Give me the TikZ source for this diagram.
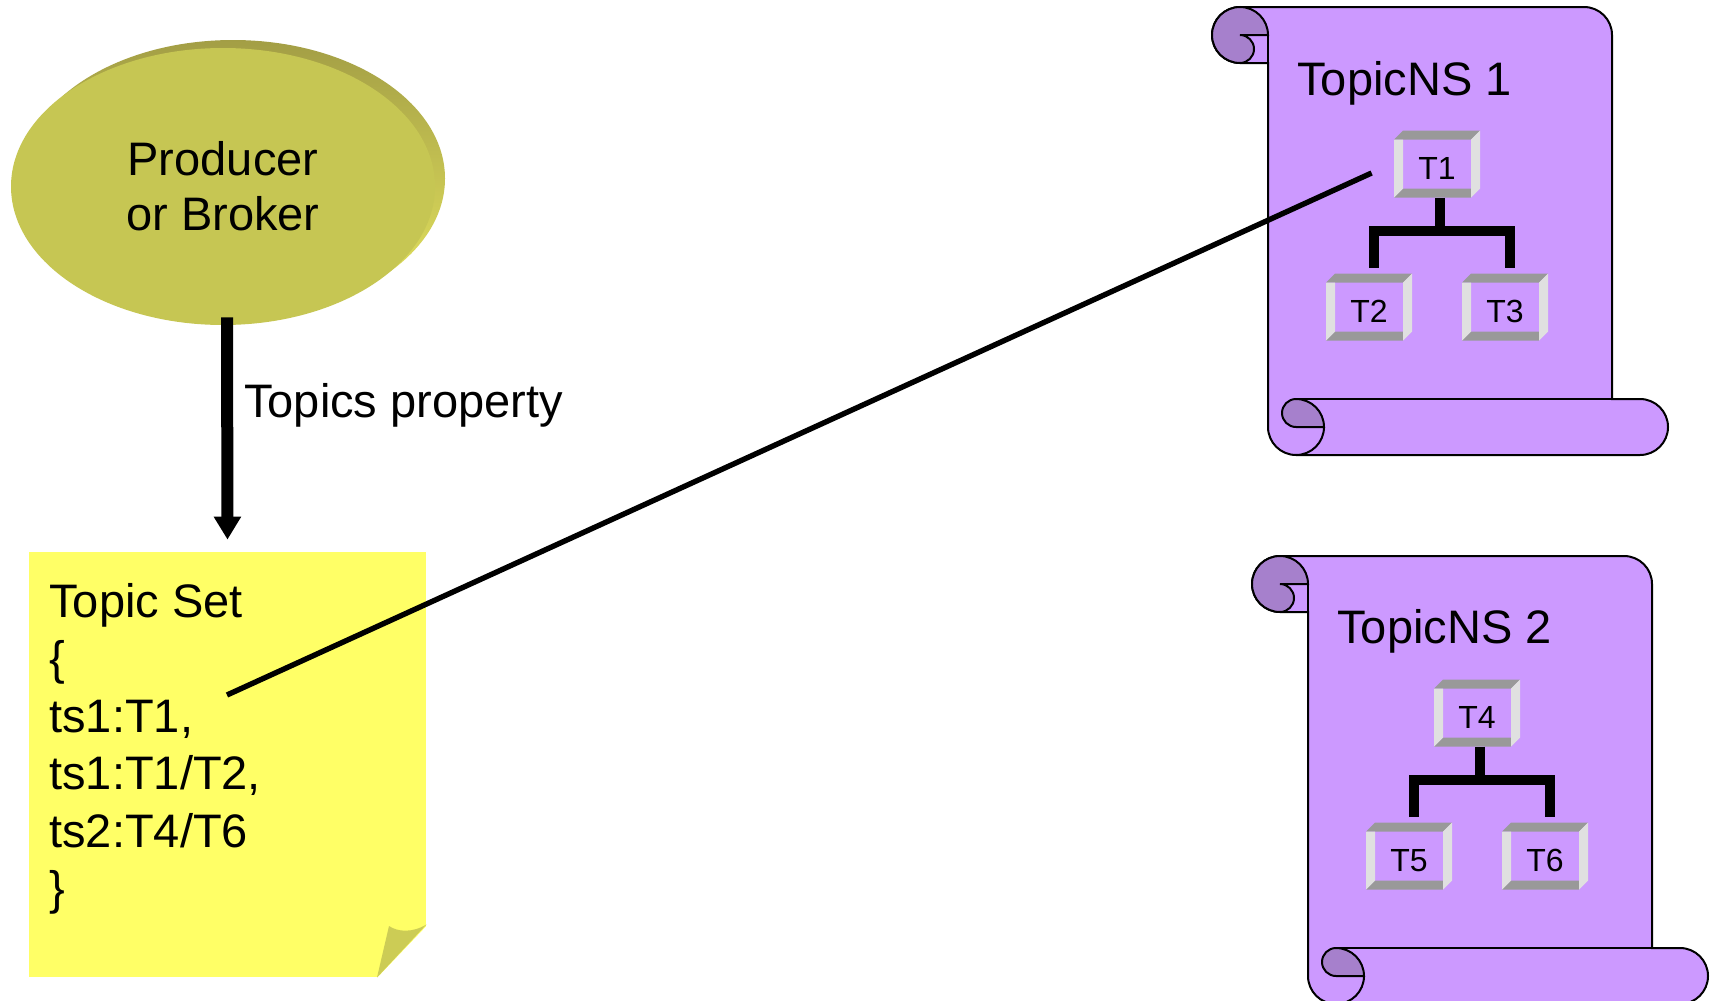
\documentclass[tikz,border=0pt]{standalone}
\usepackage{fontspec}
\setmainfont{Liberation Sans}
\usepackage{tikz}
\usetikzlibrary{arrows.meta, shapes.geometric}
\definecolor{prodfill}{HTML}{C6C653}
\definecolor{rimdark}{HTML}{A39E45}
\definecolor{rimmid}{HTML}{D8D856}
\definecolor{rimlight}{HTML}{E8E860}
\definecolor{notefill}{HTML}{FFFF66}
\definecolor{flapfill}{HTML}{CCCC55}
\definecolor{scrollfill}{HTML}{CC99FF}
\definecolor{curlfill}{HTML}{A680CC}
\definecolor{bevdark}{HTML}{999999}
\definecolor{bevlight}{HTML}{E0E0E0}
\tikzset{
  producer/.style={ellipse, fill=prodfill, minimum width=212pt, minimum height=138.5pt,
    inner sep=0pt, align=center, font=\fontsize{23.5}{27.5}\selectfont},
  notebox/.style={fill=notefill, minimum width=198.5pt, minimum height=212.5pt, inner sep=0pt},
  settext/.style={anchor=north west, inner sep=0pt, align=left,
    font=\fontsize{23.5}{28.75}\selectfont},
  proparrow/.style={line width=6pt, -{Triangle[length=11.5pt, width=13pt]}},
  nslink/.style={line width=2.7pt},
  scrollbody/.style={fill=scrollfill, draw=black, line width=1pt},
  scrollline/.style={draw=black, line width=1pt},
  curlpart/.style={fill=curlfill, draw=black, line width=1pt},
  nstitle/.style={anchor=base west, inner sep=0pt, font=\fontsize{23.5}{28}\selectfont},
  tbox/.style={minimum width=43pt, minimum height=33.5pt, inner sep=0pt, text height=15.5pt,
    font=\fontsize{16}{19}\selectfont},
  treeline/.style={line width=5pt}
}
% scroll outline, local origin = top left corner
\newcommand{\scrollshape}{%
  \filldraw[scrollbody] (28,0) -- (372,0) arc[start angle=90, end angle=0, radius=28]
    -- (400,-392) -- (428,-392) arc[start angle=90, end angle=-90, radius=28]
    -- (84,-448) arc[start angle=270, end angle=180, radius=28]
    -- (56,-56) -- (28,-56) arc[start angle=270, end angle=90, radius=28] -- cycle;
  \draw[scrollline] (84,-392) -- (400,-392);
  \draw[scrollline] (56,-28) -- (56,-56);
  \filldraw[curlpart] (28,0) arc[start angle=90, end angle=270, radius=28]
    arc[start angle=-90, end angle=90, radius=14] -- (56,-28)
    arc[start angle=0, end angle=90, radius=28] -- cycle;
  \filldraw[curlpart] (84,-392) arc[start angle=90, end angle=270, radius=14] -- (112,-420)
    arc[start angle=0, end angle=90, radius=28] -- cycle;
  \draw[scrollline] (112,-420) arc[start angle=0, end angle=-90, radius=28];
}
% bevelled topic box: name, centre, label
\newcommand{\topicbox}[3]{%
  \begin{scope}[shift={(#2)}]
    \fill[bevdark] (-34,33.5) -- (43,33.5) -- (34,24.5) -- (-43,24.5) -- cycle;
    \fill[bevdark] (-43,-33.5) -- (-34,-24.5) -- (34,-24.5) -- (34,-33.5) -- cycle;
    \fill[bevlight] (-43,24.5) -- (-34,24.5) -- (-34,-24.5) -- (-43,-33.5) -- cycle;
    \fill[bevlight] (34,24.5) -- (43,33.5) -- (43,-24.5) -- (34,-33.5) -- cycle;
  \end{scope}
  \node[tbox] (#1) at (#2) {#3};
}

\begin{document}
\begin{tikzpicture}[x=0.5pt, y=0.5pt]
  \useasboundingbox (0,0) rectangle (1713,-1001);

  % producer
  \shade[top color=rimdark, middle color=rimmid, bottom color=rimlight]
    (233,-178.5) ellipse [x radius=212, y radius=138.5];
  \node[producer] (producer) at (223,-186.5) {Producer\\or Broker};

  % topic set note
  \node[notebox] (note) at (227.5,-764.5) {};
  \fill[white] (376,-979) -- (428,-979) -- (428,-924.5) -- cycle;
  \fill[flapfill] (426.5,-924.5) .. controls (412,-933) and (398,-932) .. (389,-926)
    -- (377,-977.5) -- cycle;
  \node[settext] (topicset) at (49,-583)
    {Topic Set\\\{\\ts1:T1,\\ts1:T1/T2,\\ts2:T4/T6\\\}};

  \draw[proparrow] ([xshift=2pt,yshift=4pt]producer.south) -- ([yshift=6pt]note.north)
    node[pos=0.45, anchor=base west, inner sep=0pt, xshift=5.5pt,
      font=\fontsize{23.5}{28}\selectfont] (proplabel) {Topics property};

  % namespace 1
  \begin{scope}[shift={(1212,-7)}]
    \scrollshape
    \node[nstitle] (ns1) at (85,-88) {TopicNS 1};
    \topicbox{t1}{225,-157}{T1}
    \topicbox{t2}{157,-300}{T2}
    \topicbox{t3}{293,-300}{T3}
    \draw[treeline] ([xshift=1.5pt]t1.south) -- ++(0,-33.5) -| ([xshift=2.5pt,yshift=2.75pt]t2.north);
    \draw[treeline] ([xshift=1.5pt]t1.south) -- ++(0,-33.5) -| ([xshift=2.5pt,yshift=2.75pt]t3.north);
  \end{scope}

  % namespace 2
  \begin{scope}[shift={(1252,-556)}]
    \scrollshape
    \node[nstitle] (ns2) at (85,-87) {TopicNS 2};
    \topicbox{t4}{225,-157}{T4}
    \topicbox{t5}{157,-300}{T5}
    \topicbox{t6}{293,-300}{T6}
    \draw[treeline] ([xshift=1.5pt]t4.south) -- ++(0,-33.5) -| ([xshift=2.5pt,yshift=2.75pt]t5.north);
    \draw[treeline] ([xshift=1.5pt]t4.south) -- ++(0,-33.5) -| ([xshift=2.5pt,yshift=2.75pt]t6.north);
  \end{scope}

  % reference from the set to T1
  \coordinate (tsref) at (227,-695);
  \coordinate (t1ref) at ([xshift=-11pt,yshift=-4.5pt]t1.west);
  \draw[nslink] (tsref) -- (t1ref);
\end{tikzpicture}
\end{document}
